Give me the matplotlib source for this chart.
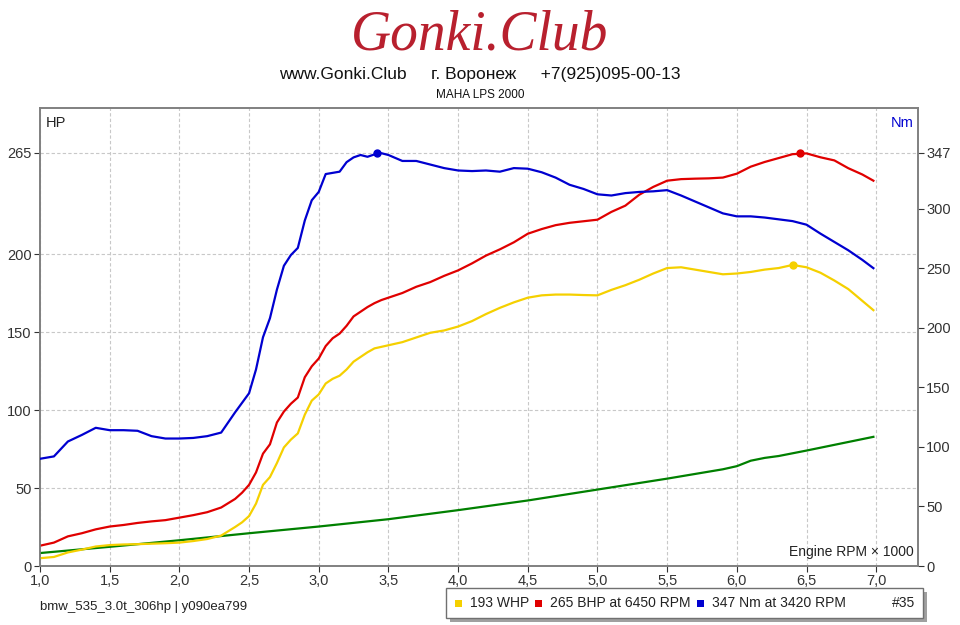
import matplotlib
matplotlib.use("Agg")
import matplotlib.pyplot as plt
from matplotlib.patches import Rectangle
from matplotlib.ticker import FuncFormatter

plt.rcParams['font.family'] = ['Liberation Sans', 'DejaVu Sans']

# обороты, тыс. об/мин
rpm = [1.0, 1.1, 1.2, 1.3, 1.4, 1.5, 1.6, 1.7, 1.8, 1.9, 2.0, 2.1, 2.2, 2.3,
       2.4, 2.45, 2.5, 2.55, 2.6, 2.65, 2.7, 2.75, 2.8, 2.85, 2.9, 2.95,
       3.0, 3.05, 3.1, 3.15, 3.2, 3.25, 3.3, 3.35, 3.4, 3.45, 3.5,
       3.6, 3.7, 3.8, 3.9, 4.0, 4.1, 4.2, 4.3, 4.4, 4.5, 4.6, 4.7, 4.8, 4.9,
       5.0, 5.1, 5.2, 5.3, 5.4, 5.5, 5.6, 5.7, 5.8, 5.9, 6.0, 6.1, 6.2, 6.3,
       6.4, 6.5, 6.6, 6.7, 6.8, 6.9, 6.98]

# мощность на маховике, HP
bhp = [13, 15, 19, 21, 23.5, 25.3, 26.3, 27.6, 28.6, 29.4, 31, 32.6, 34.5, 37.5,
       43, 47, 52, 60, 72, 78, 92, 99, 104, 108, 121, 128,
       133, 141, 146, 149, 154, 160, 163, 166, 168.5, 170.5, 172,
       175, 179, 182, 186, 189.5, 194, 199, 203, 207.5, 213, 216, 218.5, 220, 221,
       222, 227, 231, 238, 243, 247, 248, 248.3, 248.5, 249, 251.5, 256, 259, 261.5,
       264, 264.5, 262, 260, 255, 251, 247]

# мощность на колёсах, HP
whp = [5, 5.8, 8.7, 10.5, 12.5, 13.4, 13.8, 14, 14.3, 14.6, 15, 16, 17.3, 19.5,
       25, 28, 32, 40, 52, 57, 66, 76, 81, 85, 97, 106,
       110, 117, 120, 122, 126, 131, 134, 137, 139.5, 140.5, 141.5,
       143.5, 146.5, 149.5, 151, 153.5, 157, 161.5, 165.5, 169, 172, 173.5, 174, 174, 173.7,
       173.5, 177, 180, 183.5, 187.5, 191, 191.5, 190, 188.5, 187, 187.5, 188.5, 190, 191,
       193, 191.5, 188, 183, 177.5, 170, 164]

# крутящий момент, Nm
torque = [90, 92, 104.5, 110, 116, 114, 114, 113.5, 109, 107, 107, 107.5, 109, 112,
          129, 137, 145, 165, 192, 208, 232, 252, 261, 267, 290, 307,
          314, 329, 330, 331, 339, 343, 345, 343.5, 345.5, 346.5, 345,
          340, 340, 337, 334, 332, 331.5, 332, 331, 334, 333.5, 330.5, 326, 320, 316.5,
          312, 311, 313, 314, 314.5, 315.5, 311, 306, 301, 296, 293.5, 293.5, 292.5, 291,
          289.5, 286.5, 279, 272, 265, 257, 250]

# потери, HP
rpm_loss = [1.0, 1.5, 2.0, 2.5, 3.0, 3.5, 4.0, 4.5, 5.0, 5.5, 5.9, 6.0, 6.1, 6.2, 6.3, 6.5, 6.98]
loss = [8.3, 12.3, 16.5, 21, 25.3, 30, 35.8, 42, 49, 56, 62, 64, 67.5, 69.3, 70.5, 74, 82.8]

# пики
peak_bhp_rpm, peak_bhp = 6.45, 265
peak_whp_rpm, peak_whp = 6.4, 193
peak_tq_rpm, peak_tq = 3.42, 347

hp_ticks = [0, 50, 100, 150, 200, 265]
nm_ticks = [0, 50, 100, 150, 200, 250, 300, 347]
rpm_ticks = [1.0, 1.5, 2.0, 2.5, 3.0, 3.5, 4.0, 4.5, 5.0, 5.5, 6.0, 6.5, 7.0]

c_whp = '#F5D000'
c_bhp = '#E00000'
c_tq = '#0000D0'
c_loss = '#008000'
c_axis = '#808080'

fig = plt.figure(figsize=(9.6, 6.25), dpi=100)
ax = fig.add_axes([40/960, 1-566/625, 878/960, 458/625])
ax2 = ax.twinx()

hp_top = 293.6
ax.set_xlim(1.0, 7.3)
ax.set_ylim(0, hp_top)
ax2.set_ylim(0, hp_top * peak_tq / peak_bhp)

ax.plot(rpm_loss, loss, color=c_loss, lw=1.6, zorder=3)
ax.plot(rpm, whp, color=c_whp, lw=1.6, zorder=3)
ax.plot(rpm, bhp, color=c_bhp, lw=1.6, zorder=4)
ax2.plot(rpm, torque, color=c_tq, lw=1.6, zorder=4)
ax.plot([peak_whp_rpm], [peak_whp], 'o', color=c_whp, ms=5, zorder=5)
ax.plot([peak_bhp_rpm], [peak_bhp], 'o', color=c_bhp, ms=5, zorder=5)
ax2.plot([peak_tq_rpm], [peak_tq], 'o', color=c_tq, ms=5, zorder=5)

ax.set_xticks(rpm_ticks)
ax.xaxis.set_major_formatter(FuncFormatter(lambda v, p: f"{v:.1f}".replace('.', ',')))
ax.set_yticks(hp_ticks)
ax2.set_yticks(nm_ticks)
ax.grid(True, color='#C8C8C8', linestyle=(0, (3, 2)), lw=0.8)
ax.set_axisbelow(True)

for a in (ax, ax2):
    for s in a.spines.values():
        s.set_color(c_axis)
        s.set_linewidth(1.2)
    a.tick_params(colors='#333333', labelsize=10.5, length=4, width=0.8)
ax.tick_params(axis='x', pad=2)
ax.tick_params(axis='y', pad=2)
ax2.tick_params(axis='y', pad=2)

ax.text(0.006, 0.983, 'HP', transform=ax.transAxes, ha='left', va='top', fontsize=10.5, color='#222222')
ax.text(0.995, 0.983, 'Nm', transform=ax.transAxes, ha='right', va='top', fontsize=10.5, color=c_tq)
ax.text(0.995, 0.015, 'Engine RPM \u00d7 1000', transform=ax.transAxes, ha='right', va='bottom',
        fontsize=10, color='#222222')

# шапка
fig.text(0.5, 1-36/625, 'Gonki.Club', ha='center', va='center', fontsize=40,
         family='Liberation Serif', style='italic', color='#B8202E')
fig.text(0.5, 1-74/625, 'www.Gonki.Club     г. Воронеж     +7(925)095-00-13',
         ha='center', va='center', fontsize=12.5, color='#111111')
fig.text(0.5, 1-95/625, 'MAHA LPS 2000', ha='center', va='center', fontsize=8.5, color='#111111')

fig.text(40/960, 1-607/625, 'bmw_535_3.0t_306hp | y090ea799', ha='left', va='center',
         fontsize=9.5, color='#222222')

# легенда
lx0, ly0, lw_, lh_ = 446/960, 1-618/625, 477/960, 30/625
fig.patches.append(Rectangle((lx0 + 4/960, ly0 - 4/625), lw_, lh_, transform=fig.transFigure,
                             facecolor='#A0A0A0', edgecolor='none', zorder=1))
fig.patches.append(Rectangle((lx0, ly0), lw_, lh_, transform=fig.transFigure,
                             facecolor='white', edgecolor='#707070', lw=1, zorder=2))
ly = 1-603/625
items = [(455, c_whp, f"{max(whp):.0f} WHP"),
         (535, c_bhp, f"{peak_bhp} BHP at {peak_bhp_rpm*1000:.0f} RPM"),
         (697, c_tq, f"{peak_tq} Nm at {peak_tq_rpm*1000:.0f} RPM")]
for px, col, label in items:
    fig.patches.append(Rectangle((px/960, ly - 3.5/625), 7/960, 7/625, transform=fig.transFigure,
                                 facecolor=col, edgecolor='none', zorder=3))
    fig.text((px + 15)/960, ly, label, ha='left', va='center', fontsize=10, color='#222222', zorder=4)
fig.text(915/960, ly, '#35', ha='right', va='center', fontsize=10, color='#222222', zorder=4)

fig.savefig('out.png', dpi=100)
